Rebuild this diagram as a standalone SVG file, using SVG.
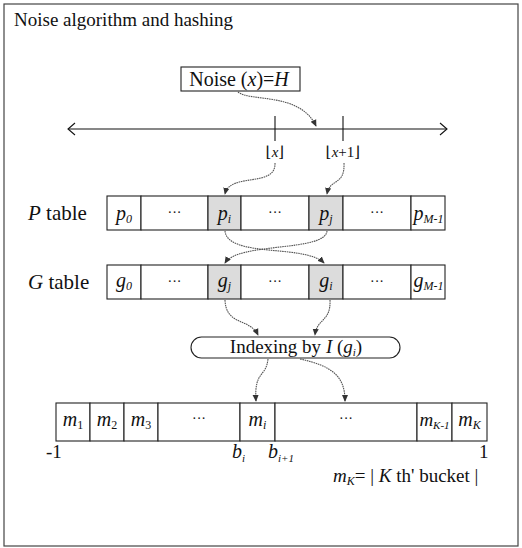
<svg xmlns="http://www.w3.org/2000/svg" width="522" height="548" viewBox="0 0 522 548">
<defs>
<style>
text{font-family:"Liberation Serif","DejaVu Serif",serif;fill:#111}
.it{font-style:italic}
.cell{fill:#fff;stroke:#222;stroke-width:1.1}
.sh{fill:#dcdcdc;stroke:#222;stroke-width:1.1}
.con{fill:none;stroke:#555;stroke-width:1.1;stroke-dasharray:1.6 0.7}
.lbl{font-size:21px}
.c{font-size:20px;text-anchor:middle}
.dots{font-size:14px;text-anchor:middle}
.sub{font-size:12px}
</style>
<marker id="ah" viewBox="0 0 8 8" refX="7" refY="4" markerWidth="7" markerHeight="7" markerUnits="userSpaceOnUse" orient="auto">
<path d="M0,0.5 L8,4 L0,7.5 Z" fill="#333"/>
</marker>
</defs>
<rect x="4" y="4" width="514" height="542" fill="#fff" stroke="#444" stroke-width="1.2"/>
<text x="14" y="26" style="font-size:19px">Noise algorithm and hashing</text>

<g id="noise">
<rect x="181" y="67" width="119" height="24" fill="#fff" stroke="#222" stroke-width="1.1"/>
<text x="239" y="86" style="font-size:20px;text-anchor:middle">Noise (<tspan class="it">x</tspan>)=<tspan class="it">H</tspan></text>
</g>

<g id="numberline">
<line x1="68" y1="129" x2="447" y2="129" stroke="#111" stroke-width="1.1"/>
<path d="M75,123 L68,129 L75,135" fill="none" stroke="#111" stroke-width="1.1"/>
<path d="M440,123 L447,129 L440,135" fill="none" stroke="#111" stroke-width="1.1"/>
<line x1="275" y1="116" x2="275" y2="141" stroke="#111" stroke-width="1.1"/>
<line x1="343" y1="116" x2="343" y2="141" stroke="#111" stroke-width="1.1"/>
<text x="275" y="157" style="font-size:15px;text-anchor:middle">⌊<tspan class="it">x</tspan>⌋</text>
<text x="343" y="157" style="font-size:15px;text-anchor:middle">⌊<tspan class="it">x</tspan>+1⌋</text>
</g>

<g id="ptable">
<text x="28" y="220" class="lbl"><tspan class="it">P</tspan> table</text>
<rect x="107" y="196" width="34" height="34" class="cell"/>
<rect x="141" y="196" width="67" height="34" class="cell"/>
<rect x="208" y="196" width="33" height="34" class="sh"/>
<rect x="241" y="196" width="68" height="34" class="cell"/>
<rect x="309" y="196" width="34" height="34" class="sh"/>
<rect x="343" y="196" width="68" height="34" class="cell"/>
<rect x="411" y="196" width="34" height="34" class="cell"/>
<text x="124" y="220" class="c it">p<tspan class="sub" dy="3">0</tspan></text>
<text x="174.5" y="217" class="dots">···</text>
<text x="224.5" y="220" class="c it">p<tspan class="sub" dy="3">i</tspan></text>
<text x="275" y="217" class="dots">···</text>
<text x="326" y="220" class="c it">p<tspan class="sub" dy="3">j</tspan></text>
<text x="377" y="217" class="dots">···</text>
<text x="428.5" y="220" class="c it">p<tspan class="sub" dy="3">M-1</tspan></text>
</g>

<g id="gtable">
<text x="28" y="289" class="lbl"><tspan class="it">G</tspan> table</text>
<rect x="107" y="265" width="34" height="34" class="cell"/>
<rect x="141" y="265" width="67" height="34" class="cell"/>
<rect x="208" y="265" width="33" height="34" class="sh"/>
<rect x="241" y="265" width="68" height="34" class="cell"/>
<rect x="309" y="265" width="34" height="34" class="sh"/>
<rect x="343" y="265" width="68" height="34" class="cell"/>
<rect x="411" y="265" width="34" height="34" class="cell"/>
<text x="124" y="287" class="c it">g<tspan class="sub" dy="3">0</tspan></text>
<text x="174.5" y="286" class="dots">···</text>
<text x="224.5" y="287" class="c it">g<tspan class="sub" dy="3">j</tspan></text>
<text x="275" y="286" class="dots">···</text>
<text x="326" y="287" class="c it">g<tspan class="sub" dy="3">i</tspan></text>
<text x="377" y="286" class="dots">···</text>
<text x="428.5" y="287" class="c it">g<tspan class="sub" dy="3">M-1</tspan></text>
</g>

<g id="indexing">
<rect x="191" y="337" width="209" height="21" rx="10.5" ry="10.5" fill="#fff" stroke="#222" stroke-width="1.1"/>
<text x="296" y="353" style="font-size:19px;text-anchor:middle">Indexing by <tspan class="it">I</tspan> (<tspan class="it">g</tspan><tspan class="it" style="font-size:11px" dy="3">i</tspan><tspan dy="-3">)</tspan></text>
</g>

<g id="mrow">
<rect x="56" y="403" width="34" height="38" class="cell"/>
<rect x="90" y="403" width="34" height="38" class="cell"/>
<rect x="124" y="403" width="34" height="38" class="cell"/>
<rect x="158" y="403" width="82" height="38" class="cell"/>
<rect x="240" y="403" width="35" height="38" class="cell"/>
<rect x="275" y="403" width="142" height="38" class="cell"/>
<rect x="417" y="403" width="35" height="38" class="cell"/>
<rect x="452" y="403" width="35" height="38" class="cell"/>
<text x="73" y="426" class="c"><tspan class="it">m</tspan><tspan class="sub" dy="3">1</tspan></text>
<text x="107" y="426" class="c"><tspan class="it">m</tspan><tspan class="sub" dy="3">2</tspan></text>
<text x="141" y="426" class="c"><tspan class="it">m</tspan><tspan class="sub" dy="3">3</tspan></text>
<text x="199" y="423" class="dots">···</text>
<text x="257.5" y="426" class="c"><tspan class="it">m</tspan><tspan class="it sub" dy="3">i</tspan></text>
<text x="346" y="423" class="dots">···</text>
<text x="434.5" y="426" style="font-size:19px;text-anchor:middle"><tspan class="it">m</tspan><tspan class="it" style="font-size:11px" dy="3">K-1</tspan></text>
<text x="469.5" y="426" class="c"><tspan class="it">m</tspan><tspan class="it sub" dy="3">K</tspan></text>
<text x="46" y="458" style="font-size:19px">-1</text>
<text x="232" y="458" style="font-size:20px" class="it">b<tspan style="font-size:11px" dy="4">i</tspan></text>
<text x="268" y="458" style="font-size:20px" class="it">b<tspan style="font-size:11px" dy="4">i+1</tspan></text>
<text x="479" y="458" style="font-size:19px">1</text>
<text x="333" y="482" style="font-size:19px"><tspan class="it">m</tspan><tspan class="it" style="font-size:12px" dy="3">K</tspan><tspan dy="-3">= | </tspan><tspan class="it">K</tspan> th' bucket |</text>
</g>

<g id="connectors">
<path class="con" d="M238,92 C250,102 300,92 316,126" marker-end="url(#ah)"/>
<path class="con" d="M275,163 C276,188 230,172 225,194" marker-end="url(#ah)"/>
<path class="con" d="M344,163 C345,186 330,178 327,194" marker-end="url(#ah)"/>
<path class="con" d="M225,231 C228,258 305,244 324,263" marker-end="url(#ah)"/>
<path class="con" d="M327,231 C325,252 238,242 225,263" marker-end="url(#ah)"/>
<path class="con" d="M225,300 C226,326 250,318 258,335" marker-end="url(#ah)"/>
<path class="con" d="M330,300 C331,322 317,318 315,335" marker-end="url(#ah)"/>
<path class="con" d="M268,359 C266,378 254,370 256,401" marker-end="url(#ah)"/>
<path class="con" d="M300,359 C332,366 345,376 345,401" marker-end="url(#ah)"/>
</g>
</svg>
